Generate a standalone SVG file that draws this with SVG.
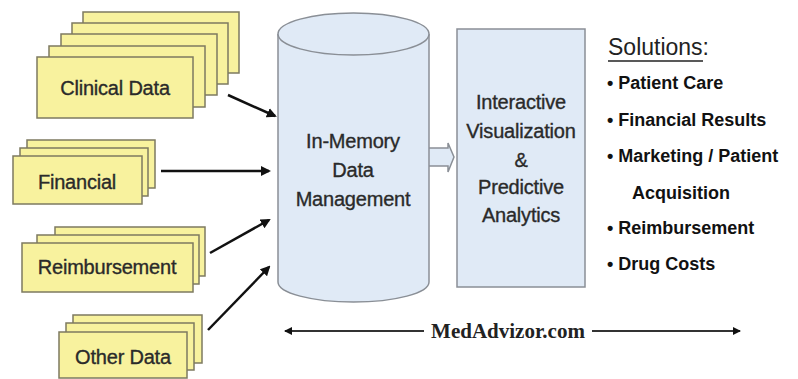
<svg xmlns="http://www.w3.org/2000/svg" width="798" height="379" viewBox="0 0 798 379">
<defs>
<style>
.sheet{fill:#f8f29e;stroke:#7d7a60;stroke-width:1.5}
.lbl{font-family:"Liberation Sans",Arial,sans-serif;font-size:20px;fill:#2a2a2a;stroke:#2a2a2a;stroke-width:0.35;text-anchor:middle;letter-spacing:-0.2px}
.blue{fill:#e0eaf6;stroke:#8a8f96;stroke-width:1.5}
.conn{stroke:#111;stroke-width:2.5;fill:none;marker-end:url(#ah)}
.sol{font-family:"Liberation Sans",Arial,sans-serif;font-size:18px;font-weight:bold;fill:#111}
.web{stroke:#333;stroke-width:2;fill:none}
</style>
<marker id="ah" markerWidth="10" markerHeight="10" refX="8" refY="5" orient="auto" markerUnits="userSpaceOnUse" viewBox="0 0 10 10">
<path d="M0,0 L10,5 L0,10 z" fill="#111"/>
</marker>
<marker id="sm" markerWidth="8" markerHeight="8" refX="7" refY="4" orient="auto-start-reverse" markerUnits="userSpaceOnUse" viewBox="0 0 8 8">
<path d="M0,0 L8,4 L0,8 z" fill="#111"/>
</marker>
</defs>
<rect width="798" height="379" fill="#fff"/>

<g id="clinical">
<rect class="sheet" x="83" y="12" width="156" height="61"/>
<rect class="sheet" x="72" y="23" width="156" height="61"/>
<rect class="sheet" x="61" y="34" width="156" height="61"/>
<rect class="sheet" x="49" y="46" width="156" height="61"/>
<rect class="sheet" x="37" y="57" width="156" height="61"/>
<text class="lbl" x="115" y="95">Clinical Data</text>
</g>

<g id="financial">
<rect class="sheet" x="27" y="140" width="128" height="48"/>
<rect class="sheet" x="20" y="148" width="128" height="48"/>
<rect class="sheet" x="13" y="156" width="129" height="48"/>
<text class="lbl" x="77" y="189">Financial</text>
</g>

<g id="reimbursement">
<rect class="sheet" x="55" y="227" width="150" height="49"/>
<rect class="sheet" x="37" y="235" width="162" height="49"/>
<rect class="sheet" x="22" y="243" width="171" height="49"/>
<text class="lbl" x="107" y="274">Reimbursement</text>
</g>

<g id="other">
<rect class="sheet" x="73" y="315" width="129" height="48"/>
<rect class="sheet" x="66" y="323" width="128" height="47"/>
<rect class="sheet" x="59" y="332" width="128" height="46"/>
<text class="lbl" x="123" y="364">Other Data</text>
</g>

<g id="connectors">
<line class="conn" x1="228" y1="95" x2="275" y2="116"/>
<line class="conn" x1="161" y1="171" x2="269" y2="171"/>
<line class="conn" x1="210" y1="253" x2="269" y2="220"/>
<line class="conn" x1="208" y1="330" x2="269" y2="267"/>
<path id="hollow-arrow" class="blue" d="M429,148 L448,148 L448,143 L454,157 L448,172 L448,166 L429,166"/>
</g>

<g id="memory">
<path class="blue" d="M278,34 L278,282 A75.5,20 0 0 0 429,282 L429,34"/>
<ellipse class="blue" cx="353.5" cy="34" rx="75.5" ry="21"/>
<text class="lbl" x="353" y="148">In-Memory</text>
<text class="lbl" x="353" y="177">Data</text>
<text class="lbl" x="353" y="206">Management</text>
</g>

<g id="analytics">
<rect class="blue" x="457" y="29" width="128" height="258"/>
<text class="lbl" x="521" y="109">Interactive</text>
<text class="lbl" x="521" y="138">Visualization</text>
<text class="lbl" x="521" y="167">&amp;</text>
<text class="lbl" x="521" y="194">Predictive</text>
<text class="lbl" x="521" y="222">Analytics</text>
</g>

<g id="solutions">
<text x="608" y="55" font-family="Liberation Sans, Arial, sans-serif" font-size="23" fill="#222">Solutions:</text>
<line x1="608" y1="61" x2="703" y2="61" stroke="#222" stroke-width="1.5"/>
<text class="sol" x="607" y="89">• Patient Care</text>
<text class="sol" x="607" y="126">• Financial Results</text>
<text class="sol" x="607" y="162">• Marketing / Patient</text>
<text class="sol" x="632" y="199">Acquisition</text>
<text class="sol" x="607" y="234">• Reimbursement</text>
<text class="sol" x="607" y="270">• Drug Costs</text>
</g>

<g id="medadvizor">
<line class="web" x1="285" y1="331" x2="424" y2="331" marker-start="url(#sm)"/>
<line class="web" x1="592" y1="331" x2="740" y2="331" marker-end="url(#sm)"/>
<text x="508" y="338" text-anchor="middle" font-family="Liberation Serif, 'Times New Roman', serif" font-size="21" font-weight="bold" fill="#222">MedAdvizor.com</text>
</g>
</svg>
